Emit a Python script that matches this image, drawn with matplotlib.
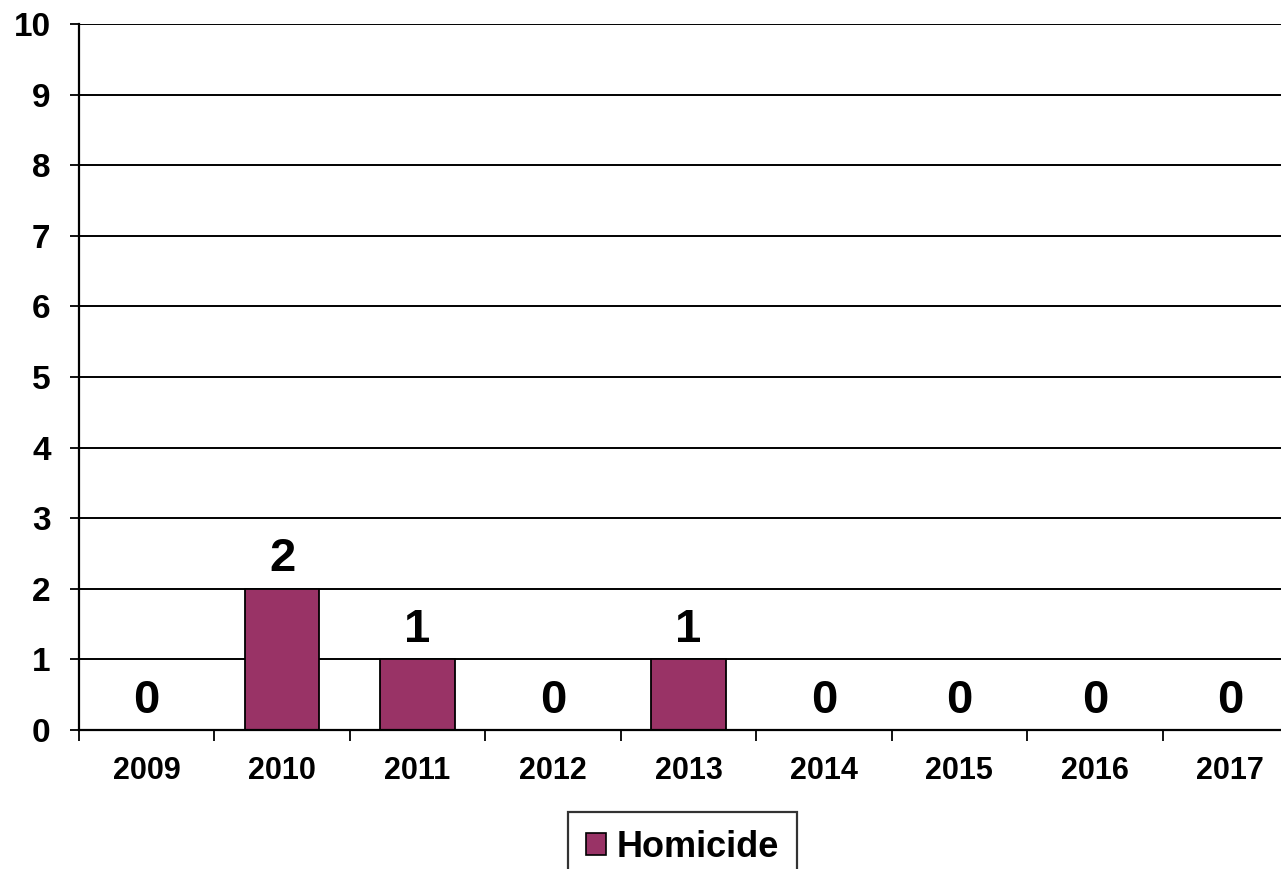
import matplotlib
matplotlib.use("Agg")
import matplotlib.pyplot as plt
from matplotlib.patches import Patch

years = ["2009", "2010", "2011", "2012", "2013", "2014", "2015", "2016", "2017"]
homicides = [0, 2, 1, 0, 1, 0, 0, 0, 0]
series_name = "Homicide"
y_ticks = list(range(0, 11))

BAR_COLOR = "#993366"
plt.rcParams["font.family"] = ["Liberation Sans", "DejaVu Sans"]
plt.rcParams["font.weight"] = "bold"

W, H, DPI = 1281, 869, 100
fig = plt.figure(figsize=(W / DPI, H / DPI), dpi=DPI)
fig.patch.set_facecolor("white")

# plot area (extends slightly past the right edge of the canvas)
left, right, top, bottom = 79, 1298, 24, 730
ax = fig.add_axes([left / W, 1 - bottom / H, (right - left) / W, (bottom - top) / H])

x = list(range(len(years)))
ax.bar(x, homicides, width=0.55, color=BAR_COLOR, edgecolor="black",
       linewidth=1.3, zorder=3)

ax.set_xlim(-0.5, len(years) - 0.5)
ax.set_ylim(0, 10)

# horizontal grid lines
ax.set_yticks(y_ticks)
ax.yaxis.grid(True, color="black", linewidth=1.4)
ax.set_axisbelow(True)

for s in ("top", "right"):
    ax.spines[s].set_visible(False)
for s in ("left", "bottom"):
    ax.spines[s].set_linewidth(1.6)
    ax.spines[s].set_zorder(4)

# category labels at centres, tick marks at category boundaries
ax.set_xticks(x)
ax.set_xticklabels(years, fontsize=22, fontweight="bold")
ax.set_xticks([i - 0.5 for i in range(len(years) + 1)], minor=True)
ax.tick_params(axis="x", which="major", length=0, pad=19)
ax.tick_params(axis="x", which="minor", length=8, width=1.3, direction="out")
ax.tick_params(axis="y", length=6.5, width=1.3, direction="out", pad=14,
               labelsize=24)
for lab in ax.get_yticklabels():
    lab.set_fontweight("bold")

# value labels above each bar
for xi, v in zip(x, homicides):
    ax.annotate(str(v), (xi, v), xytext=(0, 12.5), textcoords="offset points",
                ha="center", va="baseline", fontsize=34, fontweight="bold",
                zorder=5)

# legend box below the plot
handles = [Patch(facecolor=BAR_COLOR, edgecolor="black", linewidth=1.2,
                 label=series_name)]
leg = fig.legend(handles=handles, loc="upper left",
                 bbox_to_anchor=(568 / W, 1 - 812 / H),
                 prop={"size": 26, "weight": "bold"},
                 frameon=True, fancybox=False, shadow=False,
                 handlelength=0.55, handleheight=0.55, handletextpad=0.3,
                 borderpad=0.5, borderaxespad=0)
leg.get_frame().set_edgecolor("black")
leg.get_frame().set_linewidth(1.6)

fig.savefig("out.png", dpi=DPI, facecolor="white")
